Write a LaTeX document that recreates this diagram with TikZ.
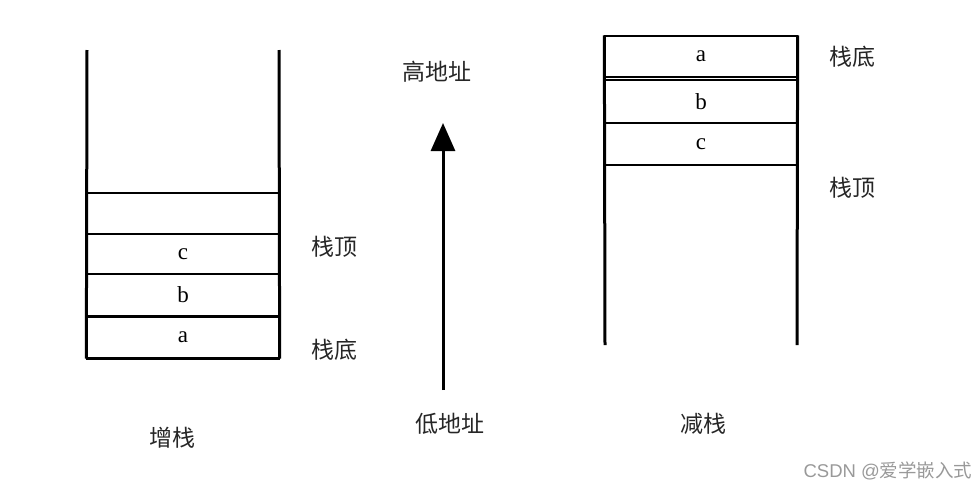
\documentclass[tikz,border=0pt]{standalone}
\usepackage{fontspec}
\setmainfont{Liberation Serif}
\newfontfamily\cjk{Noto Sans CJK SC}
\newfontfamily\wmfont{Liberation Sans}
\usetikzlibrary{arrows.meta}
\begin{document}
\begin{tikzpicture}[x=1pt,y=-1pt,
  cell/.style={draw, line width=1.3pt, minimum width=192pt, inner sep=0pt, font=\fontsize{23}{23}\selectfont},
  wall/.style={line width=3pt},
  lbl/.style={font=\cjk\fontsize{23}{23}\selectfont, text=black!85},
  wm/.style={font=\wmfont\fontsize{18.5}{18.5}\selectfont, text=black!40}]
\useasboundingbox (0,0) rectangle (978,490);
% left stack (增栈)
\node[cell, minimum height=41pt] (le) at (183,213.5) {};
\node[cell, minimum height=40pt] (lc) at (183,254) {c};
\node[cell, minimum height=42pt] (lb) at (183,295) {b};
\node[cell, minimum height=41pt] (la) at (183,337.5) {a};
\coordinate (lwt1) at (87,50);
\coordinate (lwt2) at (279,50);
\draw[wall] (lwt1) -- (la.south west);
\draw[wall] (lwt2) -- (la.south east);
\draw[line width=2.5pt] (la.south west) -- (la.south east);
\node[lbl] (ltop) at (334,247) {栈顶};
\node[lbl] (lbot) at (334,350) {栈底};
\node[lbl] (lname) at (172,438) {增栈};
% arrow
\coordinate (arrS) at (443,390);
\coordinate (arrE) at (443,123);
\draw[line width=3pt, -{Triangle[width=24pt,length=28pt]}] (arrS) -- (arrE);
\node[lbl] (hi) at (437,72) {高地址};
\node[lbl] (lo) at (450,424) {低地址};
% right stack (减栈)
\node[cell, minimum height=41pt] (ra) at (701,56.5) {a};
\node[cell, minimum height=43pt] (rb) at (701,101.5) {b};
\node[cell, minimum height=42pt] (rc) at (701,144) {c};
\coordinate (rwb1) at (605,345);
\coordinate (rwb2) at (797,345);
\draw[wall] (ra.north west) -- (rwb1);
\draw[wall] (ra.north east) -- (rwb2);
\node[lbl] (rbot) at (852,57) {栈底};
\node[lbl] (rtop) at (852,188) {栈顶};
\node[lbl] (rname) at (703,424) {减栈};
% watermark
\node[wm, anchor=east] (wmark) at (976,471) {CSDN @{\cjk 爱学嵌入式}};
\end{tikzpicture}
\end{document}
